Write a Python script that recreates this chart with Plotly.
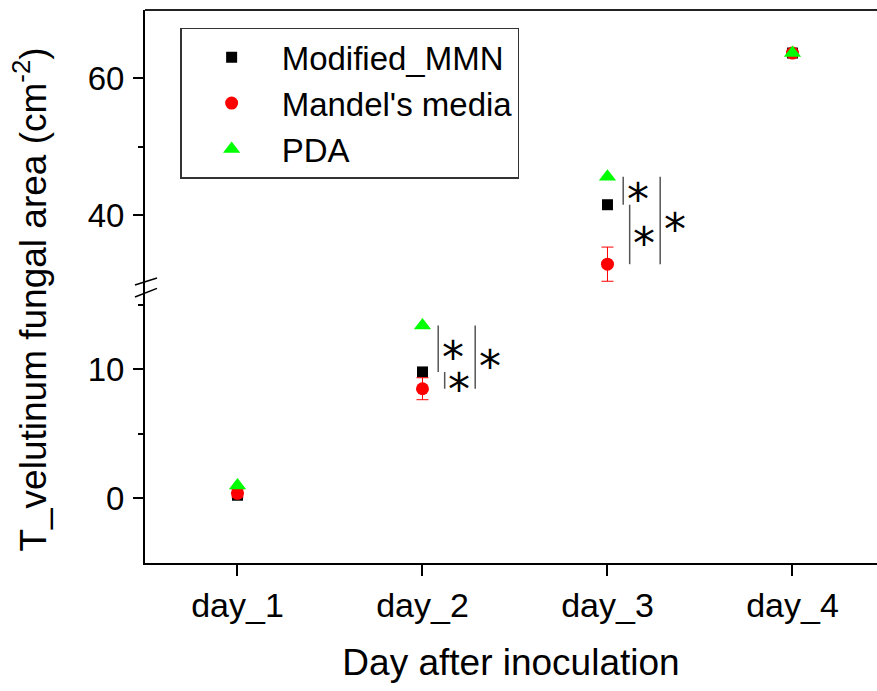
import plotly.graph_objects as go

# ---- data ----
categories = ["day_1", "day_2", "day_3", "day_4"]
mmn = [0.25, 9.8, 41.5, 63.7]
mandel = [0.4, 8.5, 32.8, 63.7]
mandel_err = [0.3, 0.85, 2.5, 0.3]
pda = [1.0, 13.4, 45.6, 63.7]
series_names = ["Modified_MMN", "Mandel's media", "PDA"]
sig_days = ["day_2", "day_3"]
sig_pairs = [("PDA", "Modified_MMN"), ("Modified_MMN", "Mandel's media"), ("PDA", "Mandel's media")]
sig_label = "*"

values = {"Modified_MMN": mmn, "Mandel's media": mandel, "PDA": pda}
xpos = list(range(1, len(categories) + 1))

FONT = "Liberation Sans, Arial, sans-serif"
styles = {
    "Modified_MMN": dict(symbol="square", size=11, color="#000000"),
    "Mandel's media": dict(symbol="circle", size=13, color="#FF0000"),
    "PDA": dict(symbol="triangle-up", size=15, color="#00FF00"),
}

fig = go.Figure()
for yax in ["y", "y2"]:
    for name in series_names:
        st = styles[name]
        err = None
        if name == "Mandel's media":
            err = dict(type="data", array=mandel_err, color="#FF0000", thickness=1, width=6)
        fig.add_trace(go.Scatter(
            x=xpos, y=values[name], mode="markers", name=name,
            marker=dict(symbol=st["symbol"], size=st["size"], color=st["color"], line=dict(width=0)),
            error_y=err, yaxis=yax, showlegend=(yax == "y"),
        ))

# significance brackets
offsets = [0.085, 0.12, 0.285]
for day in sig_days:
    i = categories.index(day)
    xc = xpos[i]
    for (a, b), off in zip(sig_pairs, offsets):
        ya, yb = values[a][i], values[b][i]
        yref = "y" if max(ya, yb) < 20 else "y2"
        fig.add_shape(type="line", xref="x", yref=yref, x0=xc + off, x1=xc + off, y0=ya, y1=yb,
                      line=dict(color="#555555", width=1.5))
        fig.add_annotation(x=xc + off + 0.078, y=(ya + yb) / 2, xref="x", yref=yref, text=sig_label,
                           showarrow=False, font=dict(family="DejaVu Sans, sans-serif", size=44, color="black"),
                           yshift=-9)

# axis break marks
for (y0, y1) in [(0.481, 0.4967), (0.5027, 0.5154)]:
    fig.add_shape(type="line", xref="paper", yref="paper", x0=-0.0137, x1=0.0164, y0=y0, y1=y1,
                  line=dict(color="black", width=1.5))
# top frame line
fig.add_shape(type="line", xref="paper", yref="paper", x0=0, x1=1, y0=1, y1=1,
              line=dict(color="#222222", width=2))

# y-axis title
fig.add_annotation(text="T_velutinum fungal area (cm<sup>-2</sup>)", xref="paper", yref="paper",
                   x=-0.156, y=0.476, xanchor="center", yanchor="middle", textangle=-90, showarrow=False,
                   font=dict(family=FONT, size=37, color="black"))

axis_common = dict(showline=True, linewidth=2, linecolor="black", ticks="outside", tickwidth=2,
                   tickcolor="black", showgrid=False, zeroline=False)

fig.update_layout(
    width=877, height=691,
    margin=dict(l=145, r=0, t=10, b=128),
    plot_bgcolor="white", paper_bgcolor="white",
    xaxis=dict(range=[0.5, 4.457], tickvals=xpos, ticktext=categories, ticklen=11,
               title=dict(text="Day after inoculation", font=dict(family=FONT, size=37, color="black"), standoff=26),
               tickfont=dict(family=FONT, size=34, color="black"), **axis_common),
    yaxis=dict(domain=[0, 0.4991], range=[-5, 16.38], tickvals=[0, 10], ticklen=10, ticklabelstandoff=2,
               minor=dict(tickvals=[5, 15], ticks="outside", ticklen=5, tickwidth=2, tickcolor="black"),
               tickfont=dict(family=FONT, size=33, color="black"), **axis_common),
    yaxis2=dict(domain=[0.4991, 1], range=[29.46, 70], tickvals=[40, 60], ticklen=10, anchor="x",
                ticklabelstandoff=2,
                minor=dict(tickvals=[50], ticks="outside", ticklen=5, tickwidth=2, tickcolor="black"),
                tickfont=dict(family=FONT, size=33, color="black"), **axis_common),
    legend=dict(x=0.048, y=0.968, xanchor="left", yanchor="top", bordercolor="#333333", borderwidth=1.5,
                bgcolor="white", font=dict(family=FONT, size=33, color="black"), itemwidth=90,
                tracegroupgap=0),
    showlegend=True,
)

fig.write_html("out.html", config={"displayModeBar": False},
               post_script="document.body.style.margin='0';document.body.style.padding='0';")
